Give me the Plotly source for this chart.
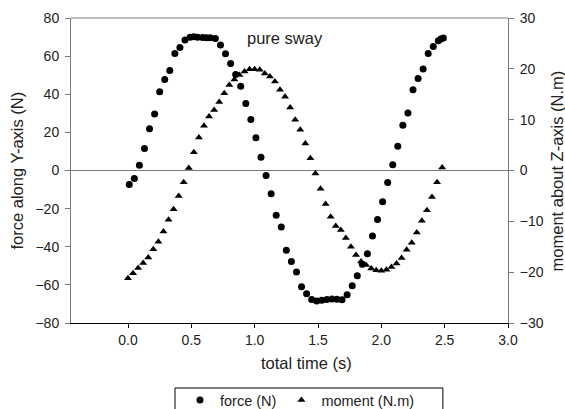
import plotly.graph_objects as go

# ---- data ----
force_time = [0.01, 0.05, 0.09, 0.13, 0.17, 0.21, 0.25, 0.29, 0.33, 0.37, 0.41, 0.45,
              0.49, 0.52, 0.55, 0.59, 0.62, 0.65, 0.69, 0.73, 0.77, 0.81, 0.85, 0.89,
              0.93, 0.97, 1.01, 1.05, 1.09, 1.13, 1.17, 1.21, 1.25, 1.29, 1.33, 1.37,
              1.41, 1.45, 1.49, 1.53, 1.57, 1.61, 1.65, 1.69, 1.73, 1.77, 1.81, 1.85,
              1.89, 1.93, 1.97, 2.01, 2.05, 2.09, 2.13, 2.17, 2.21, 2.25, 2.29, 2.33,
              2.37, 2.41, 2.45, 2.47, 2.49]
force_N = [-7.3, -4.2, 2.8, 11.6, 21.9, 29.7, 41.3, 47.7, 52.5, 61.4, 64.5, 68.4,
           69.9, 70.1, 69.9, 69.8, 69.6, 69.6, 69.2, 65.8, 61.3, 56.1, 50.4, 44.2,
           35.1, 26.8, 17.2, 7.0, -2.6, -12.2, -23.5, -29.7, -41.8, -47.7, -53.2, -61.0,
           -64.7, -67.7, -68.5, -68.1, -67.7, -67.4, -67.5, -67.8, -65.2, -60.5, -55.2, -49.2,
           -43.7, -34.3, -25.7, -16.4, -6.3, 3.0, 12.7, 23.7, 30.2, 42.4, 48.3, 53.2,
           61.4, 65.1, 68.1, 69.0, 69.5]

moment_time = [round(0.04 * i, 2) for i in range(63)]
moment_Nm = [-21.2, -20.2, -19.2, -18.2, -17.1, -15.5, -14.0, -12.0, -9.7, -7.6, -5.0, -2.3,
             0.5, 3.6, 6.5, 8.8, 10.6, 11.9, 13.5, 15.2, 16.8, 17.9, 18.8, 19.5,
             19.9, 19.9, 19.8, 19.1, 18.5, 17.5, 15.9, 14.5, 12.4, 10.0, 8.0, 5.3,
             2.4, -0.6, -3.6, -6.6, -9.1, -10.9, -11.7, -13.3, -15.0, -16.6, -17.9, -18.6,
             -19.3, -19.6, -19.7, -19.5, -19.0, -18.3, -17.2, -15.6, -14.2, -12.2, -9.9, -7.8,
             -5.2, -2.3, 0.6]

x_ticks = [0.0, 0.5, 1.0, 1.5, 2.0, 2.5, 3.0]
y_ticks = [-80, -60, -40, -20, 0, 20, 40, 60, 80]
y2_ticks = [-30, -20, -10, 0, 10, 20, 30]

FONT = "Liberation Sans, Arial, sans-serif"
GRAY = "#7a7a7a"

fig = go.Figure()
fig.add_trace(go.Scatter(x=force_time, y=force_N, mode="markers", name="force (N)",
                         marker=dict(symbol="circle", size=7, color="black")))
fig.add_trace(go.Scatter(x=moment_time, y=moment_Nm, mode="markers", name="moment (N.m)",
                         yaxis="y2",
                         marker=dict(symbol="triangle-up", size=7, color="black")))

fig.update_layout(
    width=565, height=409,
    margin=dict(l=71, r=57, t=18, b=86, autoexpand=False),
    paper_bgcolor="white", plot_bgcolor="white",
    font=dict(family=FONT, color="#222", size=14),
    showlegend=True,
    legend=dict(orientation="h", x=0.2494, y=-0.2, xanchor="left", yanchor="top",
                borderwidth=0, font=dict(size=14.5, color="#222"),
                bgcolor="rgba(0,0,0,0)"),
    xaxis=dict(range=[-0.45, 3.0], tickvals=x_ticks, tickformat=".1f",
               showline=True, linecolor="black", linewidth=1,
               ticks="outside", ticklen=4, tickcolor="black",
               showgrid=False, zeroline=False, tickfont=dict(size=14)),
    yaxis=dict(range=[-80, 80], tickvals=y_ticks,
               showline=True, linecolor=GRAY, linewidth=1,
               ticks="outside", ticklen=5, tickcolor=GRAY,
               showgrid=False, zeroline=True, zerolinecolor=GRAY, zerolinewidth=1,
               tickfont=dict(size=14), ticklabelstandoff=3),
    yaxis2=dict(range=[-30, 30], tickvals=y2_ticks, overlaying="y", side="right",
                showline=True, linecolor=GRAY, linewidth=1,
                ticks="outside", ticklen=5, tickcolor=GRAY,
                showgrid=False, zeroline=False, tickfont=dict(size=14),
                ticklabelstandoff=3),
    shapes=[
        dict(type="line", xref="paper", yref="paper", x0=0, x1=1, y0=1, y1=1,
             line=dict(color=GRAY, width=1)),
        dict(type="rect", xref="paper", yref="paper", x0=0.238, x1=0.851,
             y0=-0.2131, y1=-0.32, line=dict(color="black", width=1),
             fillcolor="rgba(0,0,0,0)", layer="above"),
    ],
    annotations=[
        dict(text="total time (s)", xref="paper", yref="paper", x=0.54, y=-0.131,
             xanchor="center", yanchor="middle", showarrow=False, font=dict(size=16.5)),
        dict(text="force along Y-axis (N)", xref="paper", yref="paper", x=-0.1236, y=0.5,
             xanchor="center", yanchor="middle", textangle=-90, showarrow=False,
             font=dict(size=16.5)),
        dict(text="moment about Z-axis (N.m)", xref="paper", yref="paper", x=1.112, y=0.5,
             xanchor="center", yanchor="middle", textangle=-90, showarrow=False,
             font=dict(size=16.5)),
        dict(text="pure sway", xref="paper", yref="paper", x=0.49, y=0.934,
             xanchor="center", yanchor="middle", showarrow=False, font=dict(size=16.5)),
    ],
)

fig.write_html("out.html")
